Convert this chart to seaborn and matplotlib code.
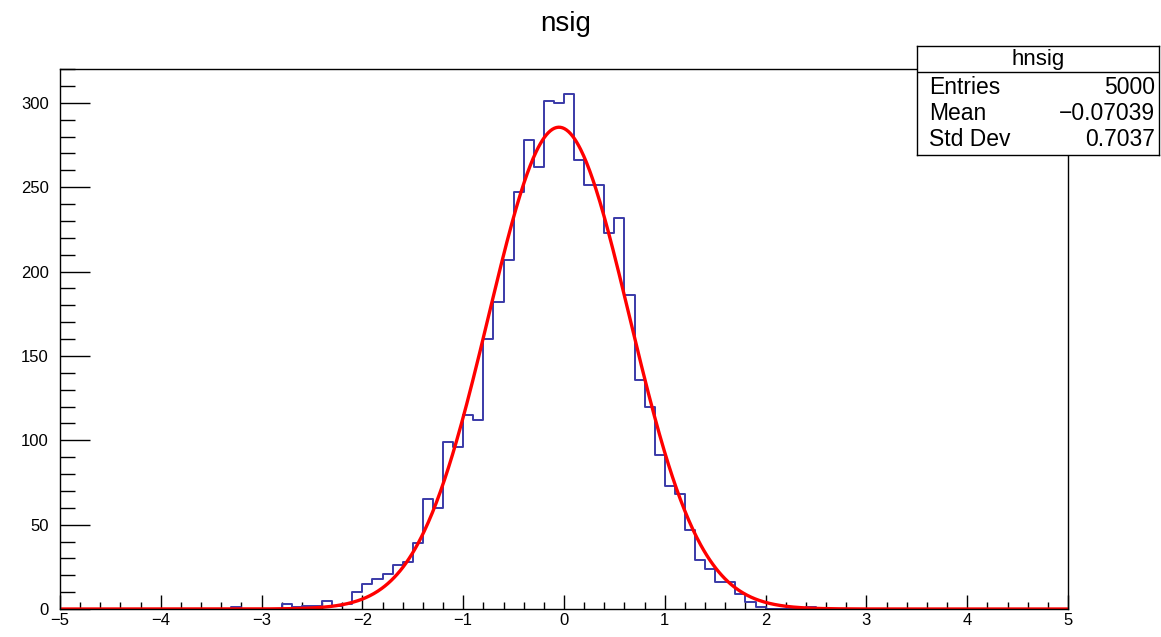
import numpy as np
import pandas as pd
import matplotlib
matplotlib.use("Agg")
import matplotlib.pyplot as plt
import seaborn as sns
from matplotlib.ticker import MultipleLocator

sns.set_theme(style="white")
plt.rcParams['font.family'] = ['Liberation Sans', 'DejaVu Sans']

# ---- data: histogram of nsig, 100 bins from -5 to 5 ----
x_min, x_max, bin_width = -5.0, 5.0, 0.1
# nonzero bin contents, keyed by bin lower edge
bin_lows = [-3.3,
            -2.8, -2.7, -2.6, -2.5, -2.4, -2.3, -2.2, -2.1, -2.0, -1.9, -1.8, -1.7, -1.6,
            -1.5, -1.4, -1.3, -1.2, -1.1, -1.0, -0.9,
            -0.8, -0.7, -0.6, -0.5, -0.4, -0.3, -0.2, -0.1,
            0.0, 0.1, 0.2, 0.3, 0.4, 0.5, 0.6,
            0.7, 0.8, 0.9, 1.0, 1.1, 1.2, 1.3, 1.4,
            1.5, 1.6, 1.7, 1.8, 1.9, 2.4]
bin_counts = [1,
              3, 1, 2, 2, 5, 2, 3, 10, 15, 18, 21, 26, 28,
              39, 65, 60, 99, 96, 115, 112,
              160, 182, 207, 247, 278, 262, 301, 300,
              305, 266, 251, 251, 223, 232, 186,
              136, 120, 91, 73, 68, 47, 29, 24,
              16, 16, 9, 4, 1, 1]

# Gaussian fit parameters (constant, mean, sigma)
fit_const, fit_mean, fit_sigma = 285.5, -0.05, 0.70

# stats box
stats_name = "hnsig"
stats_labels = ["Entries", "Mean", "Std Dev"]
stats_values = ["5000", "\u22120.07039", "0.7037"]
title = "nsig"
x_ticks = [-5, -4, -3, -2, -1, 0, 1, 2, 3, 4, 5]
y_ticks = [0, 50, 100, 150, 200, 250, 300]

df = pd.DataFrame({"x": np.array(bin_lows) + bin_width / 2, "w": bin_counts})

W, H = 1161, 637
fig = plt.figure(figsize=(W / 100, H / 100), dpi=100)
ax = fig.add_axes([60 / W, 1 - 609 / H, (1068 - 60) / W, (609 - 69) / H])

sns.histplot(data=df, x="x", weights="w", binwidth=bin_width, binrange=(x_min, x_max),
             element="step", fill=False, color="#3a3aa8", linewidth=1.4, ax=ax)

xf = np.linspace(x_min, x_max, 1000)
fit_df = pd.DataFrame({"x": xf,
                       "y": fit_const * np.exp(-0.5 * ((xf - fit_mean) / fit_sigma) ** 2)})
sns.lineplot(data=fit_df, x="x", y="y", color="#ff0000", linewidth=2.4, ax=ax)

ax.set_xlim(x_min, x_max)
ax.set_ylim(0, 320)
ax.set_xlabel("")
ax.set_ylabel("")
ax.set_xticks(x_ticks)
ax.set_yticks(y_ticks)
ax.xaxis.set_minor_locator(MultipleLocator(0.2))
ax.yaxis.set_minor_locator(MultipleLocator(10))
ax.tick_params(axis="x", which="major", direction="in", length=10, width=1, colors="black",
               labelsize=12, pad=3, bottom=True, top=False)
ax.tick_params(axis="x", which="minor", direction="in", length=5, width=1, colors="black",
               bottom=True, top=False)
ax.tick_params(axis="y", which="major", direction="in", length=21.5, width=1, colors="black",
               labelsize=12, pad=8, left=True, right=False)
ax.tick_params(axis="y", which="minor", direction="in", length=10.8, width=1, colors="black",
               left=True, right=False)
for s in ax.spines.values():
    s.set_visible(True)
    s.set_color("black")
    s.set_linewidth(1.0)

fig.text(566 / W, 1 - 24 / H, title, ha="center", va="center", fontsize=20, color="black")

# stats box
bx = fig.add_axes([917 / W, 1 - 155 / H, (1159 - 917) / W, (155 - 46) / H])
bx.set_xlim(0, 1)
bx.set_ylim(0, 1)
bx.set_xticks([])
bx.set_yticks([])
bx.set_facecolor("white")
for s in bx.spines.values():
    s.set_visible(True)
    s.set_color("black")
    s.set_linewidth(1.0)
bx.axhline((155 - 72) / 109, color="black", linewidth=1.0)
bx.text(0.5, (155 - 59) / 109, stats_name, ha="center", va="center", fontsize=16, color="black")
row_y = [(155 - 88) / 109, (155 - 114) / 109, (155 - 140) / 109]
for yy, lab, val in zip(row_y, stats_labels, stats_values):
    bx.text(0.05, yy, lab, ha="left", va="center", fontsize=16.5, color="black")
    bx.text(0.985, yy, val, ha="right", va="center", fontsize=16.5, color="black")

fig.savefig("out.png", dpi=100, facecolor="white")
